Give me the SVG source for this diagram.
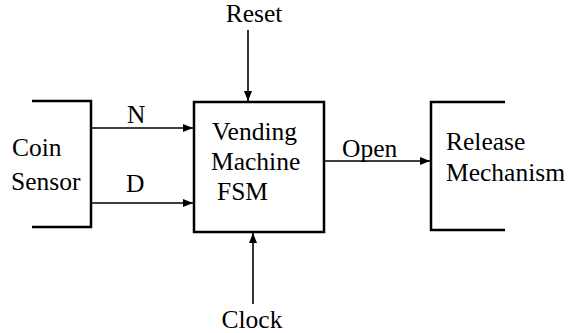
<svg xmlns="http://www.w3.org/2000/svg" width="570" height="333" viewBox="0 0 570 333">
<style>
.t{font-family:"Liberation Serif","Times New Roman",serif;font-size:25.5px;fill:#000}
.b{fill:none;stroke:#000;stroke-width:2.5}
.c{fill:none;stroke:#000;stroke-width:1.6}
</style>
<defs>
<marker id="ah" viewBox="0 0 10 8" refX="10" refY="4" markerWidth="10" markerHeight="8" markerUnits="userSpaceOnUse" orient="auto">
<path d="M0,0 L10,4 L0,8 Z" fill="#000"/>
</marker>
</defs>
<rect width="570" height="333" fill="#fff"/>
<g id="coin-sensor">
<path class="b" d="M32,101 H91 V227 H32"/>
<text class="t" x="12" y="156">Coin</text>
<text class="t" x="11" y="190">Sensor</text>
</g>
<g id="fsm">
<rect class="b" x="194" y="102" width="130" height="130"/>
<text class="t" x="212" y="140">Vending</text>
<text class="t" x="211" y="170">Machine</text>
<text class="t" x="217" y="200">FSM</text>
</g>
<g id="release">
<path class="b" d="M505,102 H431 V230 H505"/>
<text class="t" x="446" y="150">Release</text>
<text class="t" x="446" y="181">Mechanism</text>
</g>
<g id="connectors">
<line class="c" x1="91" y1="128" x2="193" y2="128" marker-end="url(#ah)"/>
<line class="c" x1="91" y1="203" x2="193" y2="203" marker-end="url(#ah)"/>
<line class="c" x1="324" y1="161" x2="430" y2="161" marker-end="url(#ah)"/>
<line class="c" x1="248" y1="30" x2="248" y2="101" marker-end="url(#ah)"/>
<line class="c" x1="253" y1="304" x2="253" y2="233" marker-end="url(#ah)"/>
<text class="t" x="127" y="123">N</text>
<text class="t" x="126" y="192">D</text>
<text class="t" x="342" y="157">Open</text>
<text class="t" x="254" y="22" text-anchor="middle">Reset</text>
<text class="t" x="252" y="328" text-anchor="middle">Clock</text>
</g>
</svg>
